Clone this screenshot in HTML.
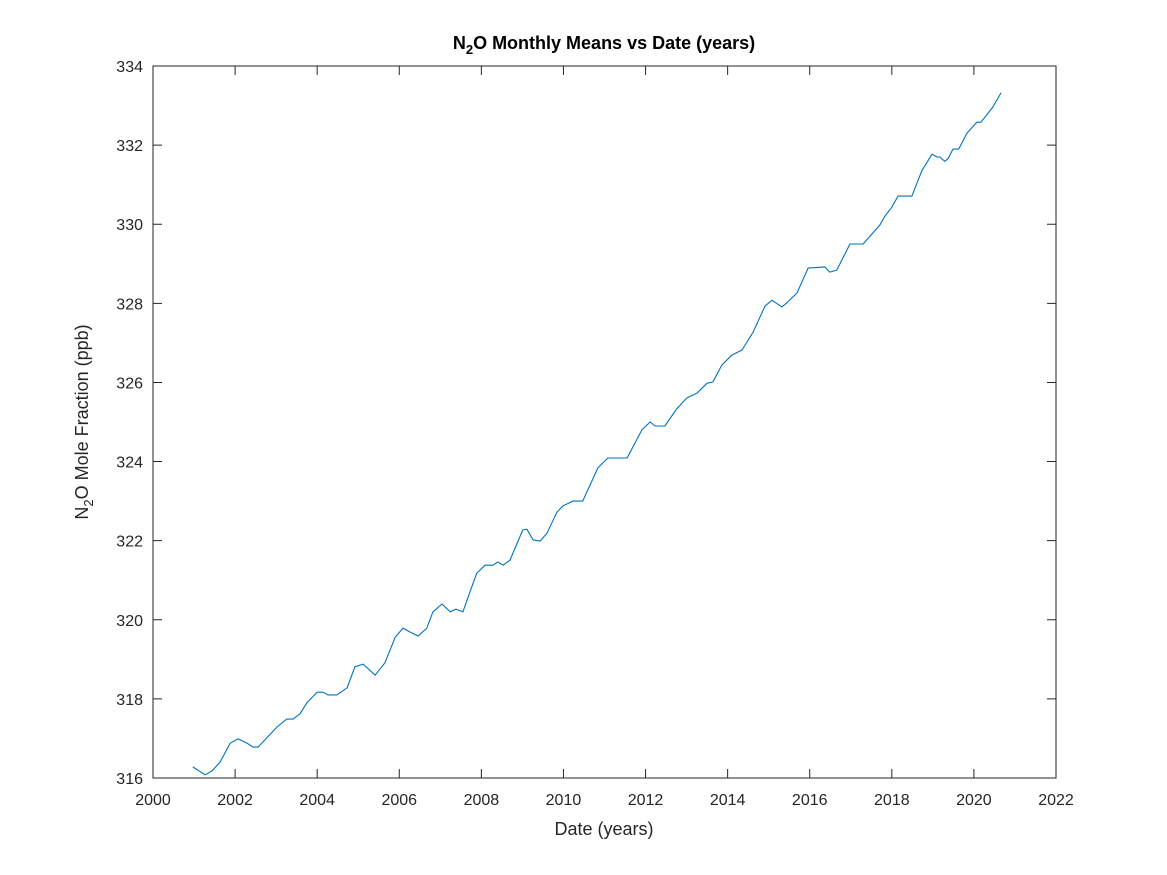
<!DOCTYPE html>
<html><head><meta charset="utf-8">
<style>
body{margin:0;background:#fff;}
svg{display:block;font-family:"Liberation Sans",Helvetica,Arial,sans-serif;}
</style></head>
<body>
<svg id="chart" width="1167" height="875" viewBox="0 0 1167 875" xmlns="http://www.w3.org/2000/svg">
<rect width="1167" height="875" fill="#fff"/>
<g id="ticks"></g>
<path id="line" fill="none" stroke="#0072BD" stroke-width="1.1" stroke-linejoin="round"/>
<rect x="153" y="66" width="903" height="712" fill="none" stroke="#262626" stroke-width="1"/>
<text x="604" y="49" text-anchor="middle" font-size="18" font-weight="bold" fill="#000">N<tspan font-size="13" dy="5">2</tspan><tspan dy="-5">O Monthly Means vs Date (years)</tspan></text>
<text x="604" y="835" text-anchor="middle" font-size="18" fill="#262626">Date (years)</text>
<text transform="translate(88,422) rotate(-90)" text-anchor="middle" font-size="18" fill="#262626">N<tspan font-size="13" dy="5">2</tspan><tspan dy="-5">O Mole Fraction (ppb)</tspan></text>
</svg>
<script>
const years = [2000.97,2001.27,2001.44,2001.63,2001.88,2002.07,2002.29,2002.44,2002.56,2003.02,2003.26,2003.41,2003.58,2003.75,2004.00,2004.14,2004.26,2004.48,2004.73,2004.92,2005.12,2005.41,2005.65,2005.90,2006.09,2006.26,2006.46,2006.67,2006.82,2007.04,2007.24,2007.38,2007.55,2007.72,2007.89,2008.09,2008.28,2008.40,2008.53,2008.70,2008.77,2009.01,2009.11,2009.26,2009.43,2009.60,2009.84,2009.99,2010.23,2010.47,2010.84,2011.08,2011.55,2011.91,2012.11,2012.23,2012.47,2012.77,2013.01,2013.25,2013.50,2013.64,2013.86,2014.10,2014.35,2014.62,2014.91,2015.08,2015.32,2015.44,2015.69,2015.96,2016.37,2016.49,2016.66,2016.78,2016.98,2017.30,2017.71,2017.83,2018.00,2018.15,2018.49,2018.73,2018.98,2019.10,2019.17,2019.29,2019.37,2019.49,2019.63,2019.83,2020.07,2020.17,2020.46,2020.56,2020.66];
const ppb = [316.28,316.08,316.18,316.40,316.88,316.99,316.88,316.78,316.78,317.29,317.49,317.49,317.62,317.90,318.17,318.17,318.10,318.10,318.28,318.81,318.88,318.60,318.91,319.56,319.79,319.69,319.59,319.79,320.20,320.40,320.20,320.27,320.20,320.70,321.18,321.38,321.38,321.46,321.38,321.51,321.69,322.27,322.29,322.02,321.99,322.19,322.72,322.88,323.00,323.00,323.84,324.09,324.09,324.80,325.00,324.90,324.90,325.35,325.61,325.73,325.98,326.01,326.44,326.69,326.82,327.27,327.93,328.08,327.91,328.01,328.26,328.89,328.92,328.79,328.84,329.09,329.50,329.50,329.98,330.20,330.43,330.71,330.71,331.35,331.77,331.70,331.70,331.59,331.66,331.90,331.90,332.30,332.58,332.58,332.96,333.14,333.32];
const xTicks = [2000,2002,2004,2006,2008,2010,2012,2014,2016,2018,2020,2022];
const yTicks = [316,318,320,322,324,326,328,330,332,334];
const X0=153,X1=1056,Y0=778,Y1=66;
function xs(v){return X0+(v-2000)/22*(X1-X0);}
function ys(v){return Y0-(v-316)/18*(Y0-Y1);}
const NS="http://www.w3.org/2000/svg";
const g=document.getElementById('ticks');
xTicks.forEach(t=>{
  const x=xs(t);
  const l=document.createElementNS(NS,'path');
  l.setAttribute('d',`M${x},778V769M${x},66V75`);
  l.setAttribute('stroke','#262626');
  
  
  g.appendChild(l);
  const tx=document.createElementNS(NS,'text');
  tx.setAttribute('x',x);tx.setAttribute('y',805);
  tx.setAttribute('text-anchor','middle');tx.setAttribute('font-size','16');tx.setAttribute('fill','#262626');
  tx.textContent=t;
  
  
  g.appendChild(tx);
});
yTicks.forEach(t=>{
  const y=ys(t);
  const l=document.createElementNS(NS,'path');
  l.setAttribute('d',`M153,${y}H162M1056,${y}H1047`);
  l.setAttribute('stroke','#262626');
  
  
  g.appendChild(l);
  const tx=document.createElementNS(NS,'text');
  tx.setAttribute('x',143);tx.setAttribute('y',y+6);
  tx.setAttribute('text-anchor','end');tx.setAttribute('font-size','16');tx.setAttribute('fill','#262626');
  tx.textContent=t;
  
  
  g.appendChild(tx);
});
document.getElementById('line').setAttribute('d',years.map((yr,i)=>(i?'L':'M')+xs(yr).toFixed(1)+','+ys(ppb[i]).toFixed(1)).join(''));
</script>
</body></html>
